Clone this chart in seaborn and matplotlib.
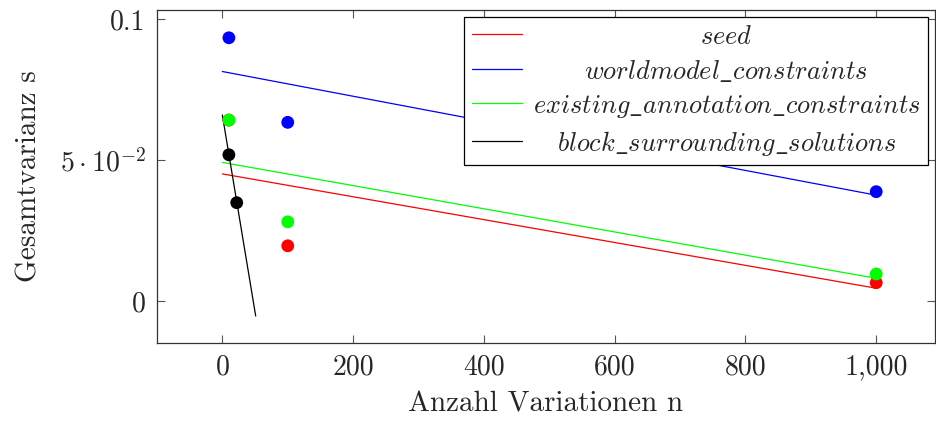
import numpy as np
import pandas as pd
import matplotlib
matplotlib.use("Agg")
import matplotlib.pyplot as plt
import seaborn as sns

# ---- data ----
n_seed = [10, 100, 1000]
s_seed = [0.0642, 0.0196, 0.0065]
n_world = [10, 100, 1000]
s_world = [0.0934, 0.0634, 0.0388]
n_exist = [10, 100, 1000]
s_exist = [0.0642, 0.0281, 0.0096]
n_block = [10, 22]
s_block = [0.0519, 0.0349]
# trend line of block series (n, s at both ends)
block_trend_n = [0, 51]
block_trend_s = [0.066, -0.0053]
fit_domain = [0, 1000]

labels = ["seed", "worldmodel_constraints", "existing_annotation_constraints",
          "block_surrounding_solutions"]
colors = ["#ff0000", "#0000ff", "#00ff00", "#000000"]
xticks = [0, 200, 400, 600, 800, 1000]
xticklabels = ["0", "200", "400", "600", "800", "1,000"]
yticks = [0, 0.05, 0.1]
yticklabels = ["0", r"$5\cdot10^{-2}$", "0.1"]

sns.set_style("ticks")
plt.rcParams["font.family"] = ["cmr10", "DejaVu Serif"]
plt.rcParams["mathtext.fontset"] = "cm"
plt.rcParams["axes.formatter.use_mathtext"] = True
plt.rcParams["axes.unicode_minus"] = False

fig = plt.figure(figsize=(9.36, 4.23), dpi=100)
ax = fig.add_axes([0.1677, 0.189, 0.8313, 0.787])

series = [(n_seed, s_seed), (n_world, s_world), (n_exist, s_exist), (n_block, s_block)]
for i, ((nx, sy), lab, col) in enumerate(zip(series, labels, colors)):
    mlabel = "$" + lab.replace("_", r"\_") + "$"
    if i < 3:
        slope, icpt = np.polyfit(nx, sy, 1)
        tx = np.array(fit_domain, dtype=float)
        ty = icpt + slope * tx
    else:
        tx = np.array(block_trend_n, dtype=float)
        ty = np.array(block_trend_s, dtype=float)
    sns.lineplot(x=tx, y=ty, color=col, lw=0.9, ax=ax, label=mlabel, zorder=2)
    sns.scatterplot(x=nx, y=sy, color=col, s=85, edgecolor="none", ax=ax,
                    legend=False, zorder=3)

ax.set_xlim(-100, 1090)
ax.set_ylim(-0.0149, 0.1032)
ax.set_xticks(xticks)
ax.set_xticklabels(xticklabels)
ax.set_yticks(yticks)
ax.set_yticklabels(yticklabels)
ax.tick_params(direction="in", top=True, right=True, length=6, width=0.8,
               color="#555555", labelsize=20, pad=8)
for sp in ax.spines.values():
    sp.set_color("#333333")
    sp.set_linewidth(0.9)

ax.set_xlabel("Anzahl Variationen n", fontsize=21, labelpad=8)
ax.set_ylabel("Gesamtvarianz s", fontsize=21, labelpad=12)

leg = ax.legend(loc="upper right", fontsize=19, frameon=True, fancybox=False,
                framealpha=1, edgecolor="black", borderaxespad=0.26,
                handlelength=1.9, labelspacing=0.34, borderpad=0.3,
                handletextpad=0.4)
leg.get_frame().set_linewidth(0.9)

fig.canvas.draw()
texts = leg.get_texts()
widths = [t.get_window_extent().width for t in texts]
wmax = max(widths)
for t, w in zip(texts, widths):
    t.set_x((wmax - w) / 2.0)

fig.savefig("out.png", dpi=100)
